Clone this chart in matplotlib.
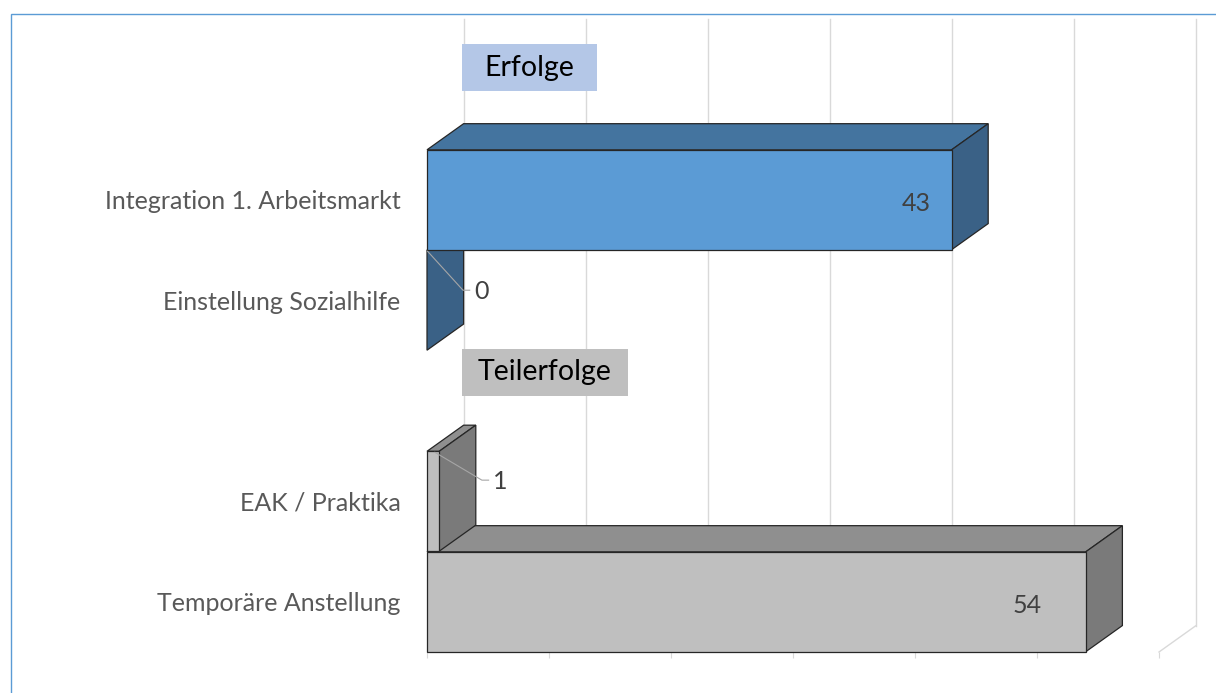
import matplotlib.pyplot as plt
from matplotlib.patches import Rectangle

# --- DATA ---
categories = ["Integration 1. Arbeitsmarkt", "Einstellung Sozialhilfe",
              "EAK / Praktika", "Temporäre Anstellung"]
values = [43, 0, 1, 54]
groups = ["Erfolge", "Erfolge", "Teilerfolge", "Teilerfolge"]
group_names = ["Erfolge", "Teilerfolge"]

# --- STYLE ---
plt.rcParams['font.family'] = ['Lato', 'DejaVu Sans']
faces = {
    "Erfolge":     {"front": "#5B9BD5", "top": "#44749F", "side": "#3A6186", "box": "#B4C7E7"},
    "Teilerfolge": {"front": "#BFBFBF", "top": "#8F8F8F", "side": "#7A7A7A", "box": "#BFBFBF"},
}
DX, DY = 3.0, -0.26       # depth offset of the 3d boxes (value units, slot units)
H = 0.497                 # half bar height in slots
grid_c = "#D9D9D9"

fig = plt.figure(figsize=(12.16, 6.93), dpi=100)
ax = fig.add_axes([427 / 1216, 1 - 652 / 693, 732 / 1216, (652 - 45) / 693])
ax.set_xlim(0, 60)
ax.set_ylim(5.5, -0.54)
for s in ax.spines.values():
    s.set_visible(False)

# slot layout: a header slot for each group, then its bars
slot = {}
header_slot = {}
k = 0
for g in group_names:
    header_slot[g] = k
    k += 1
    for c, gg in zip(categories, groups):
        if gg == g:
            slot[c] = k
            k += 1

# back wall gridlines + floor edge
y_lo, y_hi = ax.get_ylim()
for gx in range(0, 70, 10):
    ax.plot([gx + DX] * 2, [y_lo + DY, y_hi + DY], color=grid_c, lw=1,
            clip_on=False, zorder=0)
ax.plot([60, 60 + DX], [y_lo, y_lo + DY], color=grid_c, lw=1, clip_on=False, zorder=0)

ax.set_xticks(range(0, 70, 10))
ax.tick_params(axis='x', length=4, color=grid_c, labelbottom=False)
ax.set_yticks([slot[c] for c in categories], categories)
ax.tick_params(axis='y', length=0, pad=19, labelcolor="#595959", labelsize=18)

# group headers
header_w = {"Erfolge": 11.1, "Teilerfolge": 13.6}
header_top = {"Erfolge": -0.08, "Teilerfolge": -0.05}
for g in group_names:
    hk = header_slot[g] + header_top[g]
    w = header_w[g]
    ax.add_patch(Rectangle((DX - 0.15, hk), w, -0.47, facecolor=faces[g]["box"],
                           edgecolor="none", clip_on=False, zorder=1))
    ax.text(DX - 0.15 + w / 2, hk - 0.235, g, ha='center', va='center',
            fontsize=20.5, color="black", zorder=1.5)

# 3d bars, back (bottom) to front (top)
order = sorted(range(len(categories)), key=lambda i: -slot[categories[i]])
for i in order:
    v = values[i]
    c = faces[groups[i]]
    k = slot[categories[i]]
    t, b = k - H, k + H
    kw = dict(edgecolor="#262626", lw=0.9, clip_on=False, zorder=2)
    ax.fill([0, v, v + DX, DX], [t, t, t + DY, t + DY], facecolor=c["top"], **kw)
    ax.fill([v, v + DX, v + DX, v], [t, t + DY, b + DY, b], facecolor=c["side"], **kw)
    if v > 0:
        ax.fill([0, v, v, 0], [t, t, b, b], facecolor=c["front"], **kw)

# value labels: inside-end for long bars, leader lines for short ones
inside_shift = {0: -2.9, 3: -4.8}
outside_pos = {1: (3.85, -0.1), 2: (5.4, -0.21)}
for i in range(len(categories)):
    v = values[i]
    k = slot[categories[i]]
    if i in inside_shift:
        ax.text(v + inside_shift[i], k + 0.04, str(v), ha='center', va='center',
                fontsize=18, color="#404040", zorder=3)
    else:
        tx, ty = outside_pos[i]
        ax.plot([v * 0.6 + 0.05, tx - 0.9, tx - 0.35], [k - H + 0.01, k + ty, k + ty],
                color="#A6A6A6", lw=0.8, clip_on=False, zorder=3)
        ax.text(tx, k + ty + 0.01, str(v), ha='left', va='center',
                fontsize=18, color="#404040", zorder=3)

# chart area border
fig.add_artist(Rectangle((11 / 1216, -0.1), 1.5, 1 - 14 / 693 + 0.1,
                         transform=fig.transFigure, fill=False,
                         edgecolor="#5B9BD5", lw=1))

fig.savefig("out.png", dpi=100)
